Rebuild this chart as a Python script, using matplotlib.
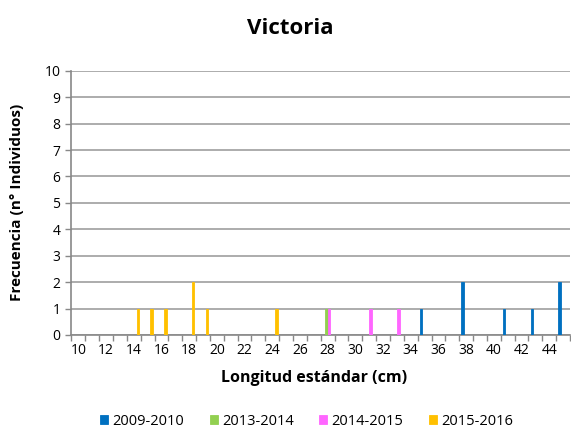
import numpy as np
from matplotlib import pyplot as plt
from matplotlib.ticker import FixedLocator

plt.rc('font', family=['Open Sans', 'DejaVu Sans'])

lengths = np.arange(10, 46)
series = ['2009-2010', '2013-2014', '2014-2015', '2015-2016']
colors = ['#0070c0', '#92d050', '#ff66ff', '#ffc000']

counts = {
    '2009-2010': {35: 1, 38: 2, 41: 1, 43: 1, 45: 2},
    '2013-2014': {28: 1},
    '2014-2015': {28: 1, 31: 1, 33: 1},
    '2015-2016': {14: 1, 15: 1, 16: 1, 18: 2, 19: 1, 24: 1},
}

fig = plt.figure(figsize=(5.71, 4.36), dpi=100)
ax = fig.add_axes([0.1252, 0.2317, 0.873, 0.606])

w = 0.18
for i, (name, c) in enumerate(zip(series, colors)):
    vals = [counts[name].get(int(v), 0) for v in lengths]
    ax.bar(lengths + (i - 1.5) * w + 0.02, vals, width=w, color=c,
           edgecolor=c, linewidth=0.6, label=name, zorder=3)

ax.set_xlim(9.5, 45.5)
ax.set_ylim(0, 10)
ax.set_yticks(range(0, 11))
ax.set_xticks(range(10, 45, 2))
ax.xaxis.set_minor_locator(FixedLocator(np.arange(9.5, 46, 1)))
ax.tick_params(axis='x', which='major', length=0, labelsize=10, pad=6)
ax.tick_params(axis='x', which='minor', length=4, color='#888888', width=1)
ax.tick_params(axis='y', which='major', length=4, color='#888888', width=1,
               labelsize=10, pad=4)
ax.grid(axis='y', color='#a6a6a6', linewidth=1.3, zorder=0)
for s in ['top', 'right']:
    ax.spines[s].set_visible(False)
for s in ['left', 'bottom']:
    ax.spines[s].set_color('#888888')
    ax.spines[s].set_linewidth(1.2)

fig.text(0.508, 0.935, 'Victoria', ha='center', va='center',
         fontsize=16, fontweight='bold')
fig.text(0.55, 0.133, 'Longitud estándar (cm)', ha='center', va='center',
         fontsize=11.5, fontweight='bold')
fig.text(0.03, 0.535, 'Frecuencia (n° Individuos)', rotation=90,
         ha='center', va='center', fontsize=11, fontweight='bold')

handles, labels = ax.get_legend_handles_labels()
fig.legend(handles, labels, loc='center', bbox_to_anchor=(0.537, 0.034),
           ncol=4, frameon=False, fontsize=10.5, handlelength=0.55,
           handleheight=0.55, handletextpad=0.3, columnspacing=1.75)

fig.savefig('out.png', dpi=100)
